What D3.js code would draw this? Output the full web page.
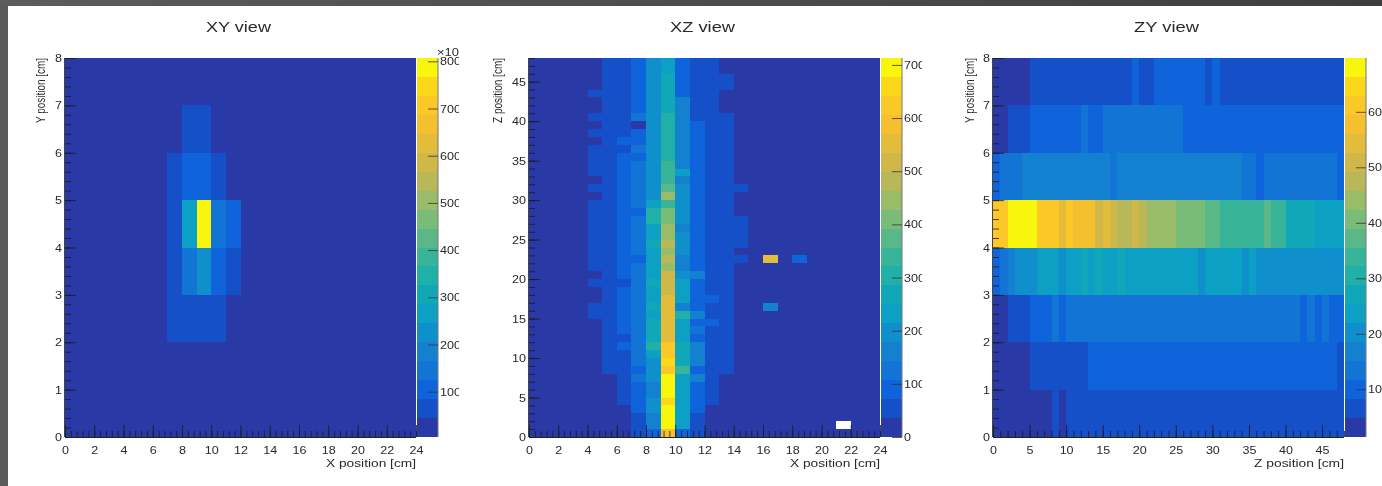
<!DOCTYPE html>
<html>
<head>
<meta charset="utf-8">
<script src="https://cdnjs.cloudflare.com/ajax/libs/d3/7.8.5/d3.min.js"></script>
<style>
html, body { margin: 0; padding: 0; background: #fff; overflow: hidden; }
svg { display: block; font-family: "Liberation Sans", Arial, sans-serif; filter: blur(0.45px); }
.domain { display: none; }
</style>
</head>
<body>
<script>
// 20 colour contours of the colour bar, bottom to top
const palette = ["#293aa6", "#1650c8", "#0f64dc", "#1274d4", "#1480d0", "#0f90cc", "#0ba0c4", "#10a8b8",
    "#20b0a8", "#38b498", "#5ab888", "#78bc78", "#98bc68", "#b8b858", "#d0b848", "#e4bc3c",
    "#f4c030", "#fcc828", "#fcd81c", "#f9f60e"];

const xPosTicks = [0, 2, 4, 6, 8, 10, 12, 14, 16, 18, 20, 22, 24];
const yPosTicks = [0, 1, 2, 3, 4, 5, 6, 7, 8];
const zPosTicks = [0, 5, 10, 15, 20, 25, 30, 35, 40, 45];

// XY view, one row per Y bin (y = 0 first), 24 X bins
const xyValues = [
    [0,0,0,0,0,0,0,0,0,0,0,0,0,0,0,0,0,0,0,0,0,0,0,0],
    [0,0,0,0,0,0,0,0,0,0,0,0,0,0,0,0,0,0,0,0,0,0,0,0],
    [0,0,0,0,0,0,0,64,64,64,64,0,0,0,0,0,0,0,0,0,0,0,0,0],
    [0,0,0,0,0,0,0,64,150,230,104,70,0,0,0,0,0,0,0,0,0,0,0,0],
    [0,0,0,0,0,0,0,64,265,807,144,104,0,0,0,0,0,0,0,0,0,0,0,0],
    [0,0,0,0,0,0,0,64,104,104,64,0,0,0,0,0,0,0,0,0,0,0,0,0],
    [0,0,0,0,0,0,0,0,64,64,0,0,0,0,0,0,0,0,0,0,0,0,0,0],
    [0,0,0,0,0,0,0,0,0,0,0,0,0,0,0,0,0,0,0,0,0,0,0,0]
];

// XZ view, dense X columns 4..13, 48 Z bins each (z = 0 first)
const xzColumns = [4, 5, 6, 7, 8, 9, 10, 11, 12, 13];
const xzValues = [
    [0,0,0,0,0,0,0,0,0,0, 0,0,0,0,0,53,53,0,0,53, 0,53,53,53,53,53,53,53,53,53, 0,53,0,53,53,53,53,0,53,0, 53,0,0,53,0,0,0,0],
    [0,0,0,0,0,0,0,0,53,53, 53,53,53,53,53,53,53,53,53,53, 53,53,53,53,53,53,53,53,53,53, 53,53,53,53,53,53,53,53,53,53, 53,53,53,53,53,53,53,53],
    [0,0,0,0,53,53,53,53,53,53, 53,89,53,89,89,89,89,89,89,53, 89,89,89,89,89,89,89,89,89,89, 89,89,89,89,89,89,53,89,53,53, 53,53,53,53,53,53,53,53],
    [53,53,53,89,89,89,89,125,89,125, 125,125,125,125,125,125,125,125,125,125, 125,125,89,125,125,125,125,125,89,125, 125,125,125,125,125,89,125,89,89,0, 125,89,89,89,89,89,89,89],
    [89,160,160,196,196,160,160,196,196,196, 231,303,267,267,267,231,267,231,231,267, 231,231,231,231,267,231,231,303,303,231, 196,196,196,196,196,196,196,196,196,196, 196,196,196,196,196,196,196,196],
    [588,694,694,694,659,694,694,694,623,659, 623,623,552,552,552,552,552,552,516,516, 516,445,481,445,481,445,445,410,410,338, 445,374,338,338,338,303,303,303,303,303, 303,267,267,267,267,267,231,231],
    [89,231,231,231,231,231,231,231,338,267, 267,267,231,231,231,303,160,231,231,231, 196,160,160,196,196,196,160,196,196,196, 196,196,160,231,160,160,160,160,160,160, 160,160,160,89,89,89,89,89],
    [53,53,53,89,89,89,89,160,89,160, 160,160,89,125,89,160,89,89,89,89, 160,89,89,89,89,89,89,89,89,89, 89,89,89,89,89,89,89,89,89,89, 53,53,53,53,53,53,53,53],
    [0,0,0,0,53,53,53,53,53,53, 53,53,53,53,89,53,53,89,53,53, 53,53,53,53,53,53,53,53,53,53, 53,53,53,53,53,53,53,53,53,53, 53,53,53,53,53,53,53,53],
    [0,0,0,0,0,0,0,0,53,53, 53,53,53,53,53,53,53,53,53,53, 53,53,53,53,53,53,53,53,53,53, 53,53,53,53,53,53,53,53,53,53, 53,0,0,0,53,53,0,0]
];
// isolated XZ cells; the 760 one is over the bar range and comes out white
const xzExtraX = [14, 14, 14, 14, 14, 14, 16, 16, 18, 21];
const xzExtraZ = [22, 24, 25, 26, 27, 31, 16, 22, 22, 1];
const xzExtraV = [53, 53, 53, 53, 53, 53, 160, 552, 89, 760];

// ZY view, one row per Y bin (y = 0 first), 48 Z bins
const zyValues = [
    [3,3,3,3,3,3,3,3,6.5,3, 6.5,6.5,6.5,6.5,6.5,6.5,6.5,6.5,6.5,6.5, 6.5,6.5,6.5,6.5,6.5,6.5,6.5,6.5,6.5,6.5, 6.5,6.5,6.5,6.5,6.5,6.5,6.5,6.5,6.5,6.5, 6.5,6.5,6.5,6.5,6.5,6.5,6.5,6.5],
    [3,3,3,3,3,6.5,6.5,6.5,6.5,6.5, 6.5,6.5,6.5,10,10,10,10,10,10,10, 10,10,10,10,10,10,10,10,10,10, 10,10,10,10,10,10,10,10,10,10, 10,10,10,10,10,10,10,6.5],
    [3,3,6.5,6.5,6.5,10,10,10,13.4,10, 13.4,13.4,13.4,13.4,13.4,13.4,13.4,13.4,13.4,13.4, 13.4,13.4,13.4,13.4,13.4,13.4,13.4,13.4,13.4,13.4, 13.4,13.4,13.4,13.4,13.4,13.4,13.4,13.4,13.4,13.4, 13.4,13.4,10,13.4,10,13.4,10,10],
    [10,13.4,16.8,20.2,20.2,20.2,23.6,23.6,23.6,20.2, 23.6,23.6,27,23.6,27,23.6,23.6,27,23.6,23.6, 23.6,23.6,23.6,23.6,23.6,23.6,23.6,23.6,20.2,23.6, 23.6,23.6,23.6,23.6,20.2,23.6,20.2,20.2,20.2,20.2, 20.2,20.2,20.2,20.2,20.2,20.2,20.2,20.2],
    [61.2,61.2,68,68,68,68,61.2,61.2,61.2,54.4, 61.2,57.8,57.8,57.8,51,54.4,51,47.6,47.6,51, 47.6,44.1,44.1,44.1,44.1,40.7,40.7,40.7,40.7,37.3, 37.3,33.9,33.9,33.9,33.9,33.9,33.9,37.3,33.9,33.9, 27,27,27,27,23.6,23.6,23.6,23.6],
    [10,13.4,13.4,13.4,16.8,16.8,16.8,16.8,16.8,16.8, 16.8,16.8,16.8,16.8,16.8,16.8,13.4,16.8,16.8,16.8, 16.8,16.8,16.8,16.8,16.8,16.8,16.8,16.8,16.8,16.8, 16.8,16.8,16.8,16.8,13.4,13.4,10,13.4,13.4,13.4, 13.4,13.4,13.4,13.4,13.4,13.4,13.4,10],
    [3,3,6.5,6.5,6.5,10,10,10,10,10, 10,10,13.4,10,10,13.4,13.4,13.4,13.4,13.4, 13.4,13.4,13.4,13.4,13.4,13.4,10,10,10,10, 10,10,10,10,10,10,10,10,10,10, 10,10,10,10,10,10,10,10],
    [3,3,3,3,3,6.5,6.5,6.5,6.5,6.5, 6.5,6.5,6.5,6.5,6.5,6.5,6.5,6.5,6.5,10, 6.5,6.5,10,10,10,10,10,10,10,6.5, 10,6.5,6.5,6.5,6.5,6.5,6.5,6.5,6.5,6.5, 6.5,6.5,6.5,6.5,6.5,6.5,6.5,6.5]
];

const xyBarTicks = [100, 200, 300, 400, 500, 600, 700, 800];
const xzBarTicks = [0, 100, 200, 300, 400, 500, 600, 700];
const zyBarTicks = [10, 20, 30, 40, 50, 60];

const W = 1382, H = 486;
const plotTop = 58, plotBottom = 437, plotW = 351;
const textColor = "#2a2a2a";

const svg = d3.select("body").append("svg").attr("width", W).attr("height", H);

// grey window edge behind the canvas
const grad = svg.append("defs").append("linearGradient").attr("id", "edge");
grad.append("stop").attr("offset", "0%").attr("stop-color", "#5c5c5c");
grad.append("stop").attr("offset", "100%").attr("stop-color", "#3e3e3e");
svg.append("rect").attr("width", W).attr("height", 6).attr("fill", "url(#edge)");
svg.append("rect").attr("y", 6).attr("width", 8).attr("height", H - 6).attr("fill", "#5a5a5a");

function cellsFromRows(rows) {
    const out = [];
    rows.forEach((row, j) => row.forEach((v, i) => out.push({i: i, j: j, v: v})));
    return out;
}

function xzCells() {
    const out = [];
    xzColumns.forEach((x, c) => xzValues[c].forEach((v, z) => out.push({i: x, j: z, v: v})));
    xzExtraX.forEach((x, k) => out.push({i: x, j: xzExtraZ[k], v: xzExtraV[k]}));
    return out;
}

// the screenshot is stretched sideways, so text gets a forced length
function stretch(sel, len) {
    sel.attr("textLength", len).attr("lengthAdjust", "spacingAndGlyphs");
}

function styleTickText(sel) {
    sel.attr("font-size", 11).attr("fill", textColor).attr("font-family", "Liberation Sans")
        .each(function () { stretch(d3.select(this), this.textContent.length * 7); });
}

function drawView(o) {
    const x = d3.scaleLinear().domain([0, o.xMax]).range([o.left, o.left + plotW]);
    const y = d3.scaleLinear().domain([0, o.yMax]).range([plotBottom, plotTop]);
    const color = d3.scaleQuantize().domain(o.barRange).range(palette);
    const barY = d3.scaleLinear().domain(o.barRange).range([plotBottom, plotTop]);
    const g = svg.append("g");

    g.append("text").attr("x", o.left + plotW / 2 - 2).attr("y", 32)
        .attr("text-anchor", "middle").attr("font-size", 14).attr("fill", textColor)
        .text(o.title).call(stretch, 65);

    // frame filled with the lowest contour, then the bins
    g.append("rect").attr("x", o.left).attr("y", plotTop).attr("width", plotW).attr("height", plotBottom - plotTop)
        .attr("fill", palette[0]);
    g.append("g").attr("shape-rendering", "crispEdges").selectAll("rect").data(o.cells).join("rect")
        .attr("x", d => x(d.i))
        .attr("y", d => y(d.j + 1))
        .attr("width", d => x(d.i + 1) - x(d.i))
        .attr("height", d => y(d.j) - y(d.j + 1))
        .attr("fill", d => d.v > o.barRange[1] ? "#fff" : color(d.v));

    // colour bar
    const step = (o.barRange[1] - o.barRange[0]) / palette.length;
    g.append("g").attr("shape-rendering", "crispEdges").selectAll("rect").data(palette).join("rect")
        .attr("x", o.left + plotW + 1)
        .attr("width", 21)
        .attr("y", (d, i) => barY(o.barRange[0] + (i + 1) * step))
        .attr("height", (d, i) => barY(o.barRange[0] + i * step) - barY(o.barRange[0] + (i + 1) * step))
        .attr("fill", d => d);
    g.append("line").attr("x1", o.left + plotW + 22).attr("x2", o.left + plotW + 22)
        .attr("y1", plotTop).attr("y2", plotBottom).attr("stroke", "#777");

    // axes: ticks point into the frame
    const xAxis = g.append("g").attr("transform", "translate(0," + plotBottom + ")");
    xAxis.append("g").call(d3.axisBottom(x).tickValues(d3.range(0, o.xMax + 0.01, o.xMinor)).tickSize(-6).tickFormat(""));
    xAxis.append("g").call(d3.axisBottom(x).tickValues(o.xTicks).tickSize(-12).tickPadding(9).tickFormat(d3.format("d")));
    const yAxis = g.append("g").attr("transform", "translate(" + o.left + ",0)");
    yAxis.append("g").call(d3.axisLeft(y).tickValues(d3.range(0, o.yMax + 0.01, o.yMinor)).tickSize(-6).tickFormat(""));
    yAxis.append("g").call(d3.axisLeft(y).tickValues(o.yTicks).tickSize(-11).tickPadding(3).tickFormat(d3.format("d")));
    g.selectAll(".tick line").attr("stroke", "#1a1a1a").attr("stroke-width", 0.8);
    g.selectAll(".tick text").call(styleTickText);
    g.append("line").attr("x1", o.left).attr("x2", o.left + plotW).attr("y1", plotBottom + 0.5).attr("y2", plotBottom + 0.5).attr("stroke", "#222");
    g.append("line").attr("x1", o.left - 0.5).attr("x2", o.left - 0.5).attr("y1", plotTop).attr("y2", plotBottom).attr("stroke", "#444");

    // colour bar axis, its labels are cut off by the canvas edge
    const clipId = "clip" + o.title.slice(0, 2);
    g.append("clipPath").attr("id", clipId).append("rect")
        .attr("x", o.left + plotW).attr("y", 40).attr("width", o.clipW).attr("height", 420);
    const barAxis = g.append("g").attr("clip-path", "url(#" + clipId + ")");
    const barG = barAxis.append("g").attr("transform", "translate(" + (o.left + plotW + 22) + ",0)");
    barG.call(d3.axisRight(barY).tickValues(o.barTicks).tickSize(-10).tickPadding(2));
    barG.selectAll(".tick line").attr("stroke", "#333").attr("stroke-width", 0.8);
    barG.selectAll(".tick text").call(styleTickText);
    if (o.barExp) {
        barAxis.append("text").attr("x", o.left + plotW + 21).attr("y", 56)
            .attr("font-size", 11).attr("fill", textColor).text(o.barExp).call(stretch, 22);
    }

    g.append("text").attr("x", o.left + plotW).attr("y", 467).attr("text-anchor", "end")
        .attr("font-size", 11).attr("fill", textColor).text(o.xTitle).call(stretch, 90);
    g.append("text").attr("transform", "translate(" + o.yTitleX + "," + plotTop + ") rotate(-90)")
        .attr("text-anchor", "end").attr("font-size", 13).attr("fill", textColor).text(o.yTitle).call(stretch, 65);
}

drawView({title: "XY view", left: 65, xMax: 24, yMax: 8, xMinor: 0.4, yMinor: 0.2,
    xTicks: xPosTicks, yTicks: yPosTicks, xTitle: "X position [cm]", yTitle: "Y position [cm]", yTitleX: 45,
    cells: cellsFromRows(xyValues), barRange: [4, 807], barTicks: xyBarTicks, clipW: 43, barExp: "\u00d710"});
drawView({title: "XZ view", left: 529, xMax: 24, yMax: 48, xMinor: 0.4, yMinor: 1,
    xTicks: xPosTicks, yTicks: zPosTicks, xTitle: "X position [cm]", yTitle: "Z position [cm]", yTitleX: 502,
    cells: xzCells(), barRange: [0, 713], barTicks: xzBarTicks, clipW: 42});
drawView({title: "ZY view", left: 993, xMax: 48, yMax: 8, xMinor: 1, yMinor: 0.2,
    xTicks: zPosTicks, yTicks: yPosTicks, xTitle: "Z position [cm]", yTitle: "Y position [cm]", yTitleX: 974,
    cells: cellsFromRows(zyValues), barRange: [1.4, 69.7], barTicks: zyBarTicks, clipW: 40});
</script>
</body>
</html>
